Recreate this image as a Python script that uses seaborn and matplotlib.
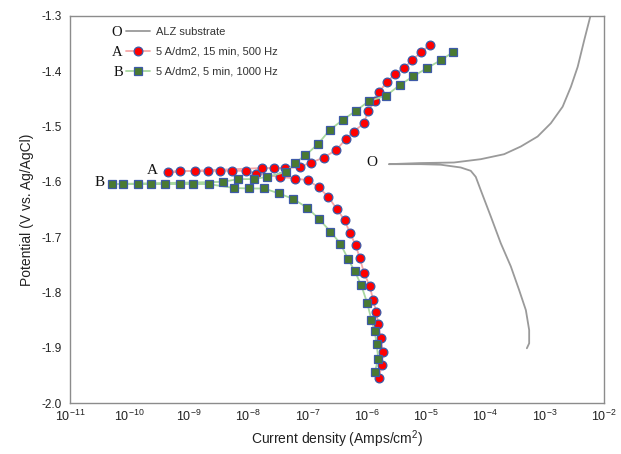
import numpy as np
import pandas as pd
import matplotlib
matplotlib.use("Agg")
import matplotlib.pyplot as plt
import seaborn as sns
from matplotlib.ticker import LogLocator, FixedLocator

# ---------------- data (current density A/cm2, potential V vs Ag/AgCl) ----------------
O_current = [5.01e-4, 5.48e-4, 5.48e-4, 4.82e-4, 3.72e-4, 2.69e-4, 1.82e-4, 1.24e-4,
             8.37e-5, 6.90e-5, 5.68e-5, 3.85e-5, 1.77e-5, 8.13e-6, 2.37e-6,
             8.13e-6, 2.96e-5, 8.37e-5, 2.07e-4, 3.97e-4, 7.60e-4, 1.27e-3,
             2.01e-3, 2.77e-3, 3.60e-3, 4.66e-3, 5.87e-3]
O_potential = [-1.901, -1.892, -1.868, -1.832, -1.796, -1.753, -1.711, -1.663,
               -1.615, -1.591, -1.580, -1.574, -1.569, -1.568, -1.568,
               -1.566, -1.565, -1.559, -1.550, -1.536, -1.518, -1.494,
               -1.464, -1.428, -1.392, -1.343, -1.301]

A_current = [1.61e-6, 1.79e-6, 1.88e-6, 1.72e-6, 1.57e-6, 1.45e-6, 1.29e-6, 1.12e-6,
             8.98e-7, 7.67e-7, 6.50e-7, 5.20e-7, 4.24e-7, 3.18e-7, 2.25e-7, 1.56e-7,
             1.02e-7, 6.29e-8, 3.42e-8, 1.38e-8,
             9.37e-9, 5.37e-9, 3.41e-9, 2.14e-9, 1.26e-9, 7.02e-10, 4.40e-10,
             1.73e-8, 2.71e-8, 4.28e-8, 7.45e-8, 1.17e-7, 1.89e-7, 3.10e-7, 4.41e-7,
             6.08e-7, 8.98e-7, 1.06e-6, 1.36e-6, 1.62e-6, 2.23e-6, 2.98e-6, 4.25e-6,
             5.85e-6, 8.13e-6, 1.17e-5]
A_potential = [-1.954, -1.932, -1.908, -1.882, -1.858, -1.835, -1.814, -1.788,
               -1.764, -1.738, -1.714, -1.692, -1.669, -1.650, -1.627, -1.610,
               -1.597, -1.594, -1.591, -1.585,
               -1.580, -1.580, -1.580, -1.580, -1.580, -1.581, -1.582,
               -1.575, -1.575, -1.575, -1.573, -1.565, -1.556, -1.542, -1.523,
               -1.509, -1.494, -1.472, -1.453, -1.437, -1.419, -1.405, -1.394,
               -1.380, -1.366, -1.352]

B_current = [1.37e-6, 1.57e-6, 1.47e-6, 1.36e-6, 1.20e-6, 1.02e-6, 8.11e-7, 6.32e-7,
             4.82e-7, 3.62e-7, 2.45e-7, 1.57e-7, 1.00e-7, 5.83e-8, 3.32e-8, 1.89e-8,
             1.03e-8, 5.73e-9,
             2.16e-9, 1.18e-9, 7.02e-10, 4.02e-10, 2.33e-10, 1.42e-10, 7.94e-11, 5.06e-11,
             3.79e-9, 6.79e-9, 1.24e-8, 2.10e-8, 4.43e-8, 6.11e-8, 9.29e-8, 1.50e-7,
             2.39e-7, 3.96e-7, 6.67e-7, 1.09e-6, 2.14e-6, 3.60e-6, 6.12e-6, 1.05e-5,
             1.77e-5, 2.90e-5]
B_potential = [-1.944, -1.920, -1.893, -1.870, -1.849, -1.819, -1.787, -1.762,
               -1.739, -1.712, -1.690, -1.667, -1.647, -1.631, -1.621, -1.612,
               -1.612, -1.611,
               -1.604, -1.604, -1.604, -1.604, -1.604, -1.604, -1.604, -1.604,
               -1.600, -1.595, -1.595, -1.591, -1.582, -1.566, -1.552, -1.532,
               -1.506, -1.488, -1.471, -1.454, -1.444, -1.425, -1.409, -1.394,
               -1.380, -1.365]

series_labels = ["ALZ substrate", "5 A/dm2, 15 min, 500 Hz", "5 A/dm2, 5 min, 1000 Hz"]
curve_letters = ["O", "A", "B"]
y_ticks = [-2.0, -1.9, -1.8, -1.7, -1.6, -1.5, -1.4, -1.3]

# ---------------- style ----------------
sns.set_style("white")
plt.rcParams["font.family"] = ["Liberation Sans", "DejaVu Sans"]
plt.rcParams["axes.unicode_minus"] = False
plt.rcParams["mathtext.fontset"] = "custom"
plt.rcParams["mathtext.rm"] = "Liberation Sans"
plt.rcParams["mathtext.it"] = "Liberation Sans:italic"

fig = plt.figure(figsize=(6.21, 4.54), dpi=100)
ax = fig.add_axes([70 / 621, 1 - 403 / 454, (604 - 70) / 621, (403 - 16) / 454])

sns.lineplot(x=O_current, y=O_potential, sort=False, estimator=None, ax=ax,
             color="#9a9a9a", linewidth=1.3, label=series_labels[0])
sns.lineplot(x=A_current, y=A_potential, sort=False, estimator=None, ax=ax,
             color="#f7a8a8", linewidth=1.3, marker="o", markersize=6.3,
             markerfacecolor="#ff0000", markeredgecolor="#3d5aa8",
             markeredgewidth=0.9, label=series_labels[1])
sns.lineplot(x=B_current, y=B_potential, sort=False, estimator=None, ax=ax,
             color="#a8d8a0", linewidth=1.3, marker="s", markersize=6.0,
             markerfacecolor="#4a7a32", markeredgecolor="#3d5aa8",
             markeredgewidth=0.9, label=series_labels[2])

ax.set_xscale("log")
ax.set_xlim(1e-11, 1e-2)
ax.set_ylim(-2.0, -1.3)
ax.yaxis.set_major_locator(FixedLocator(y_ticks))
ax.set_yticklabels([f"{v:.1f}" for v in y_ticks])
ax.xaxis.set_major_locator(LogLocator(base=10, numticks=20))
ax.xaxis.set_minor_locator(LogLocator(base=10, subs=np.arange(2, 10), numticks=20))

for side in ["left", "right", "top", "bottom"]:
    ax.spines[side].set_color("#8c8c8c")
    ax.spines[side].set_linewidth(1.0)
ax.tick_params(axis="both", which="major", direction="in", length=5, width=0.8,
               color="#8c8c8c", labelsize=8.5, labelcolor="#222222", pad=6)
ax.tick_params(axis="x", which="major", pad=4, labelsize=9)
ax.tick_params(axis="x", which="minor", direction="in", length=3, width=0.7,
               color="#8c8c8c")
ax.tick_params(axis="y", which="minor", left=False)

ax.set_xlabel("Current density (Amps/cm$^2$)", fontsize=10, color="#222222", labelpad=3)
ax.set_ylabel("Potential (V vs. Ag/AgCl)", fontsize=10, color="#222222", labelpad=5)

handles, labels = ax.get_legend_handles_labels()
leg = ax.legend(handles, labels, loc="upper left", bbox_to_anchor=(126 / 621, 1 - 27 / 454),
                bbox_transform=fig.transFigure, frameon=False, fontsize=8,
                handlelength=2.2, handletextpad=0.5, labelspacing=0.9, borderpad=0,
                borderaxespad=0)
for t in leg.get_texts():
    t.set_color("#333333")

# serif curve letters (legend and on-curve)
serif = ["Liberation Serif", "DejaVu Serif"]
for letter, (px, py) in zip(curve_letters, [(117, 32), (117, 53), (118, 73)]):
    fig.text(px / 621, 1 - py / 454, letter, family=serif, fontsize=10.5,
             ha="center", va="center", color="#111111")
for letter, (px, py) in zip(curve_letters, [(372, 163), (152, 171), (100, 183)]):
    fig.text(px / 621, 1 - py / 454, letter, family=serif, fontsize=11,
             ha="center", va="center", color="#111111")

fig.savefig("out.png", dpi=100)
